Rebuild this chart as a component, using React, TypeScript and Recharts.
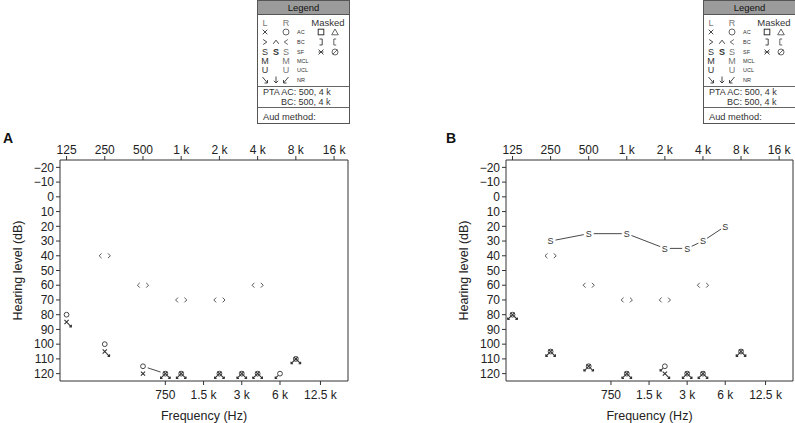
import { ReferenceLine, Scatter, ScatterChart, XAxis, YAxis } from "recharts";

const FONT = "'Liberation Sans', Arial, sans-serif";
const INK = "#333";
const GRAY = "#555";

const topTicks = [125, 250, 500, 1000, 2000, 4000, 8000, 16000];
const topTickLabels = ["125", "250", "500", "1 k", "2 k", "4 k", "8 k", "16 k"];
const bottomTicks = [750, 1500, 3000, 6000, 12500];
const bottomTickLabels = ["750", "1.5 k", "3 k", "6 k", "12.5 k"];
const dbTicks = [-20, -10, 0, 10, 20, 30, 40, 50, 60, 70, 80, 90, 100, 110, 120];
const X_DOMAIN = [111, 20600];
const Y_DOMAIN = [-25, 125];

// panel A
const bcFreqsA = [250, 500, 1000, 2000, 4000];
const bcLevelsA = [40, 60, 70, 70, 60];
const rightAcFreqsA = [125, 250, 500];
const rightAcLevelsA = [80, 100, 115];
const leftAcFreqsA = [125, 250];
const leftAcLevelsA = [85, 105];
const leftAcPlainFreqsA = [500];
const leftAcPlainLevelsA = [120];
const bothNrFreqsA = [750, 1000, 2000, 3000, 4000, 8000];
const bothNrLevelsA = [120, 120, 120, 120, 120, 110];
const rightNrFreqsA = [6000];
const rightNrLevelsA = [120];
const rightLineFreqsA = [500, 750];
const rightLineLevelsA = [115, 120];

// panel B
const sfFreqsB = [250, 500, 1000, 2000, 3000, 4000, 6000];
const sfLevelsB = [30, 25, 25, 35, 35, 30, 20];
const bcFreqsB = [250, 500, 1000, 2000, 4000];
const bcLevelsB = [40, 60, 70, 70, 60];
const bothNrFreqsB = [125, 250, 500, 1000, 3000, 4000, 8000];
const bothNrLevelsB = [80, 105, 115, 120, 120, 120, 105];
const rightNrFreqsB = [2000];
const rightNrLevelsB = [115];
const leftNrFreqsB = [2000];
const leftNrLevelsB = [120];

const pts = (f: number[], d: number[]) => f.map((v, i) => ({ f: v, db: d[i] }));

const arrowLeft = (cx: number, cy: number) => {
  const ex = cx + 4.8;
  const ey = cy + 4.8;
  return (
    <path
      d={`M${cx + 2},${cy + 2}L${ex},${ey}M${ex - 2},${ey}L${ex},${ey}L${ex},${ey - 2}`}
      stroke={INK}
      strokeWidth={1.1}
      fill="none"
    />
  );
};

const arrowRight = (cx: number, cy: number) => {
  const ex = cx - 4.8;
  const ey = cy + 4.8;
  return (
    <path
      d={`M${cx - 2},${cy + 2}L${ex},${ey}M${ex + 2},${ey}L${ex},${ey}L${ex},${ey - 2}`}
      stroke={INK}
      strokeWidth={1.1}
      fill="none"
    />
  );
};

const circle = (cx: number, cy: number) => (
  <circle cx={cx} cy={cy} r={2.4} fill="none" stroke={INK} strokeWidth={0.9} />
);

const cross = (cx: number, cy: number) => (
  <path
    d={`M${cx - 2.1},${cy - 2.1}L${cx + 2.1},${cy + 2.1}M${cx - 2.1},${cy + 2.1}L${cx + 2.1},${cy - 2.1}`}
    stroke={INK}
    strokeWidth={1.1}
  />
);

const RightAc = (p: any) => <g>{circle(p.cx, p.cy)}</g>;
const LeftAcNr = (p: any) => (
  <g>
    {cross(p.cx, p.cy)}
    {arrowLeft(p.cx, p.cy)}
  </g>
);
const LeftAc = (p: any) => <g>{cross(p.cx, p.cy)}</g>;
const RightNr = (p: any) => (
  <g>
    {circle(p.cx, p.cy)}
    {arrowRight(p.cx, p.cy)}
  </g>
);
const BothNr = (p: any) => (
  <g>
    {circle(p.cx, p.cy)}
    {cross(p.cx, p.cy)}
    {arrowLeft(p.cx, p.cy)}
    {arrowRight(p.cx, p.cy)}
  </g>
);
const BcPair = (p: any) => {
  const { cx, cy } = p;
  return (
    <path
      d={`M${cx - 3.2},${cy - 2.4}L${cx - 5.6},${cy}L${cx - 3.2},${cy + 2.4}M${cx + 3.2},${cy - 2.4}L${cx + 5.6},${cy}L${cx + 3.2},${cy + 2.4}`}
      stroke={GRAY}
      strokeWidth={1}
      fill="none"
    />
  );
};
const SoundField = (p: any) => (
  <text x={p.cx} y={p.cy + 3.2} textAnchor="middle" fontSize={9} fill={INK} fontFamily={FONT}>
    S
  </text>
);
const Empty = () => <g />;

function GapLine(props: any) {
  const points: { x: number; y: number }[] = props.points || [];
  const gap = props.gap ?? 5;
  const segs: string[] = [];
  for (let i = 0; i < points.length - 1; i++) {
    const a = points[i];
    const b = points[i + 1];
    const dx = b.x - a.x;
    const dy = b.y - a.y;
    const len = Math.sqrt(dx * dx + dy * dy);
    if (len <= gap * 2) continue;
    const ux = dx / len;
    const uy = dy / len;
    segs.push(
      `M${a.x + ux * gap},${a.y + uy * gap}L${b.x - ux * gap},${b.y - uy * gap}`
    );
  }
  return <path d={segs.join("")} stroke={INK} strokeWidth={0.9} fill="none" />;
}

type Series = { data: { f: number; db: number }[]; shape: any; line?: boolean };

function Audiogram({ width, series }: { width: number; series: Series[] }) {
  const tick = { fontSize: 12, fill: "#222", fontFamily: FONT };
  return (
    <ScatterChart
      width={width}
      height={423}
      margin={{ top: 130, right: 2, bottom: 2, left: 0 }}
    >
      <XAxis
        xAxisId="top"
        orientation="top"
        dataKey="f"
        type="number"
        scale="log"
        domain={X_DOMAIN}
        allowDataOverflow
        ticks={topTicks}
        interval={0}
        tickFormatter={(v: number) => topTickLabels[topTicks.indexOf(v)]}
        height={30}
        tickSize={4}
        tickMargin={2}
        tick={tick}
        stroke={INK}
      />
      <XAxis
        xAxisId="bottom"
        orientation="bottom"
        dataKey="f"
        type="number"
        scale="log"
        domain={X_DOMAIN}
        allowDataOverflow
        ticks={bottomTicks}
        interval={0}
        tickFormatter={(v: number) => bottomTickLabels[bottomTicks.indexOf(v)]}
        height={40}
        tickSize={4}
        tickMargin={5}
        tick={tick}
        stroke={INK}
        label={{
          value: "Frequency (Hz)",
          position: "insideBottom",
          offset: 1,
          fontSize: 12.5,
          fill: "#222",
          fontFamily: FONT,
        }}
      />
      <YAxis
        yAxisId="l"
        dataKey="db"
        type="number"
        domain={Y_DOMAIN}
        allowDataOverflow
        reversed
        ticks={dbTicks}
        interval={0}
        tickFormatter={(v: number) => (v < 0 ? `\u2212${-v}` : `${v}`)}
        width={60}
        tickSize={4}
        tickMargin={2}
        tick={tick}
        stroke={INK}
        label={{
          value: "Hearing level (dB)",
          angle: -90,
          position: "insideLeft",
          offset: 18,
          fontSize: 12.5,
          fill: "#222",
          fontFamily: FONT,
          style: { textAnchor: "middle" },
        }}
      />
      <ReferenceLine
        xAxisId="top"
        yAxisId="l"
        x={X_DOMAIN[1]}
        stroke={INK}
        ifOverflow="visible"
      />
      {series.map((s, i) => (
        <Scatter
          key={i}
          xAxisId="top"
          yAxisId="l"
          data={s.data}
          shape={s.shape}
          line={s.line ? (p: any) => <GapLine {...p} gap={5} /> : false}
          isAnimationActive={false}
        />
      ))}
    </ScatterChart>
  );
}

function LegendBox({ x }: { x: number }) {
  const c1 = 8;
  const c2 = 19;
  const c3 = 29;
  const lab = 40;
  const m1 = 64;
  const m2 = 78;
  const rows = [23, 32, 42, 52, 61, 70, 80];
  const big = 9;
  const sm = 5.5;
  const t = (cx: number, cy: number, s: string, opts: any = {}) => (
    <text
      x={cx}
      y={cy + (opts.fs ?? big) * 0.36}
      textAnchor={opts.anchor ?? "middle"}
      fontSize={opts.fs ?? big}
      fill={opts.fill ?? INK}
      fontWeight={opts.bold ? "bold" : "normal"}
    >
      {s}
    </text>
  );
  const ln = (d: string, color = INK) => (
    <path d={d} stroke={color} strokeWidth={0.9} fill="none" />
  );
  const arr = (cx: number, cy: number, dir: number) => {
    // dir: 1 = down-right, 0 = down, -1 = down-left
    const sx = cx - dir * 2.5;
    const sy = cy - 3;
    const ex = cx + dir * 2.5;
    const ey = cy + 3;
    if (dir === 0) {
      return ln(`M${cx},${cy - 3.5}L${cx},${cy + 3}M${cx - 2.2},${cy + 0.8}L${cx},${cy + 3}L${cx + 2.2},${cy + 0.8}`);
    }
    return ln(`M${sx},${sy}L${ex},${ey}M${ex - dir * 3},${ey}L${ex},${ey}L${ex},${ey - 3}`);
  };
  return (
    <g transform={`translate(${x},0)`} fontFamily={FONT}>
      <rect x={0.5} y={0.5} width={92} height={123} fill="#fff" stroke={GRAY} />
      <rect x={0.5} y={0.5} width={92} height={14} fill="#9b9b9b" stroke={GRAY} />
      {t(46.5, 7.5, "Legend", { fs: 9.5, fill: "#111" })}
      {t(c1, rows[0], "L", { fill: "#777" })}
      {t(c3, rows[0], "R", { fill: "#777" })}
      {t(71, rows[0], "Masked", { fs: 9.5 })}

      {ln(`M${c1 - 2.3},${rows[1] - 2.3}L${c1 + 2.3},${rows[1] + 2.3}M${c1 - 2.3},${rows[1] + 2.3}L${c1 + 2.3},${rows[1] - 2.3}`)}
      <circle cx={c3} cy={rows[1]} r={3} fill="none" stroke={GRAY} strokeWidth={0.9} />
      {t(lab, rows[1], "AC", { fs: sm, anchor: "start" })}
      <rect x={m1 - 2.8} y={rows[1] - 2.8} width={5.6} height={5.6} fill="none" stroke={INK} strokeWidth={1} />
      {ln(`M${m2 - 3.3},${rows[1] + 2.8}L${m2},${rows[1] - 3}L${m2 + 3.3},${rows[1] + 2.8}Z`, GRAY)}

      {ln(`M${c1 - 1.8},${rows[2] - 2.5}L${c1 + 1.8},${rows[2]}L${c1 - 1.8},${rows[2] + 2.5}`)}
      {ln(`M${c2 - 2.8},${rows[2] + 1.8}L${c2},${rows[2] - 1.8}L${c2 + 2.8},${rows[2] + 1.8}`)}
      {ln(`M${c3 + 1.8},${rows[2] - 2.5}L${c3 - 1.8},${rows[2]}L${c3 + 1.8},${rows[2] + 2.5}`, GRAY)}
      {t(lab, rows[2], "BC", { fs: sm, anchor: "start" })}
      {ln(`M${m1 - 1.5},${rows[2] - 3}L${m1 + 1.2},${rows[2] - 3}L${m1 + 1.2},${rows[2] + 3}L${m1 - 1.5},${rows[2] + 3}`)}
      {ln(`M${m2 + 1.2},${rows[2] - 3}L${m2 - 1.2},${rows[2] - 3}L${m2 - 1.2},${rows[2] + 3}L${m2 + 1.2},${rows[2] + 3}`, GRAY)}

      {t(c1, rows[3], "S")}
      {t(c2, rows[3], "S", { bold: true })}
      {t(c3, rows[3], "S", { fill: "#777" })}
      {t(lab, rows[3], "SF", { fs: sm, anchor: "start" })}
      {ln(`M${m1 - 2.5},${rows[3] - 2.5}L${m1 + 2.5},${rows[3] + 2.5}M${m1 - 2.5},${rows[3] + 2.5}L${m1 + 2.5},${rows[3] - 2.5}M${m1 - 2.5},${rows[3]}L${m1 - 1},${rows[3]}M${m1 + 1},${rows[3]}L${m1 + 2.5},${rows[3]}`)}
      <circle cx={m2} cy={rows[3]} r={3} fill="none" stroke={GRAY} strokeWidth={0.9} />
      {ln(`M${m2 - 2.2},${rows[3] + 2.2}L${m2 + 2.2},${rows[3] - 2.2}`, GRAY)}

      {t(c1, rows[4], "M")}
      {t(c3, rows[4], "M", { fill: "#777" })}
      {t(lab, rows[4], "MCL", { fs: sm, anchor: "start" })}

      {t(c1, rows[5], "U")}
      {t(c3, rows[5], "U", { fill: "#777" })}
      {t(lab, rows[5], "UCL", { fs: sm, anchor: "start" })}

      {arr(c1, rows[6], 1)}
      {arr(c2, rows[6], 0)}
      {arr(c3, rows[6], -1)}
      {t(lab, rows[6], "NR", { fs: sm, anchor: "start" })}

      {ln("M0.5,86.5L92.5,86.5", GRAY)}
      {t(6, 92.2, "PTA AC: 500, 4 k", { fs: 9, anchor: "start" })}
      {t(24, 102.2, "BC: 500, 4 k", { fs: 9, anchor: "start" })}
      {ln("M0.5,107.5L92.5,107.5", GRAY)}
      {t(6, 116.7, "Aud method:", { fs: 9.3, anchor: "start" })}
    </g>
  );
}

const seriesA: Series[] = [
  { data: pts(rightLineFreqsA, rightLineLevelsA), shape: Empty, line: true },
  { data: pts(bcFreqsA, bcLevelsA), shape: BcPair },
  { data: pts(rightAcFreqsA, rightAcLevelsA), shape: RightAc },
  { data: pts(leftAcFreqsA, leftAcLevelsA), shape: LeftAcNr },
  { data: pts(leftAcPlainFreqsA, leftAcPlainLevelsA), shape: LeftAc },
  { data: pts(bothNrFreqsA, bothNrLevelsA), shape: BothNr },
  { data: pts(rightNrFreqsA, rightNrLevelsA), shape: RightNr },
];

const seriesB: Series[] = [
  { data: pts(sfFreqsB, sfLevelsB), shape: SoundField, line: true },
  { data: pts(bcFreqsB, bcLevelsB), shape: BcPair },
  { data: pts(bothNrFreqsB, bothNrLevelsB), shape: BothNr },
  { data: pts(rightNrFreqsB, rightNrLevelsB), shape: RightNr },
  { data: pts(leftNrFreqsB, leftNrLevelsB), shape: LeftAcNr },
];

export default function App() {
  return (
    <div
      style={{
        position: "absolute",
        left: 0,
        top: 0,
        width: 795,
        height: 423,
        overflow: "hidden",
        background: "#fff",
        fontFamily: FONT,
      }}
    >
      <div style={{ position: "absolute", left: 0, top: 0 }}>
        <Audiogram width={350} series={seriesA} />
      </div>
      <div style={{ position: "absolute", left: 446, top: 0 }}>
        <Audiogram width={349} series={seriesB} />
      </div>
      <svg
        width={795}
        height={423}
        style={{ position: "absolute", left: 0, top: 0, pointerEvents: "none" }}
      >
        <LegendBox x={257} />
        <LegendBox x={703} />
        <text x={3} y={143} fontSize={14} fontWeight="bold" fontFamily={FONT} fill="#111">
          A
        </text>
        <text x={446} y={143} fontSize={14} fontWeight="bold" fontFamily={FONT} fill="#111">
          B
        </text>
      </svg>
    </div>
  );
}
